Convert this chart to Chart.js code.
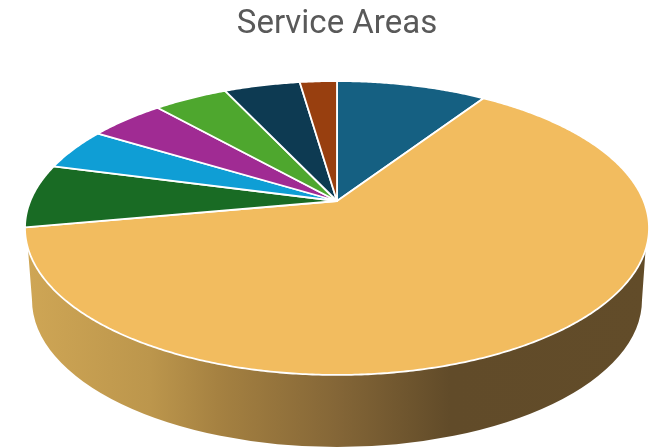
<!DOCTYPE html>
<html>
<head>
<meta charset="utf-8">
<style>html,body{margin:0;padding:0;background:#fff}canvas{display:block}</style>
<script src="https://cdn.jsdelivr.net/npm/chart.js@4/dist/chart.umd.js"></script>
</head>
<body>
<canvas id="c" width="664" height="447" style="width:664px;height:447px"></canvas>
<script>
const titleText = "Service Areas";
const categories = ["Area 1","Area 2","Area 3","Area 4","Area 5","Area 6","Area 7","Area 8"];
const shares = [9.3,62.9,7.0,4.6,4.7,4.6,4.7,2.3];
const sliceColors = ["#156082","#F2BC5F","#196B24","#0F9ED5","#A02B93","#4EA72E","#0D3A52","#983F0F"];

// Perspective view of the pie's top face
const APEX_X = 337, APEX_Y = 201, PERSP = 0.1837, SCALE_X = 306.7, SCALE_Y = 142;
const DEG = Math.PI / 180;
function project(angle) {           // angle in Chart.js radians
  const t = angle + Math.PI / 2, u = Math.sin(t), v = -Math.cos(t), w = 1 - PERSP * v;
  return [APEX_X + SCALE_X * u / w, APEX_Y + SCALE_Y * v / w];
}
function rimPath(ctx, a0, a1) {
  const n = Math.max(2, Math.ceil(Math.abs(a1 - a0) / (0.5 * DEG)));
  for (let i = 0; i <= n; i++) {
    const p = project(a0 + (a1 - a0) * i / n);
    ctx.lineTo(p[0], p[1]);
  }
}
Chart.ArcElement.prototype.draw = function (ctx) {
  ctx.save();
  ctx.beginPath();
  ctx.moveTo(APEX_X, APEX_Y);
  rimPath(ctx, this.startAngle, this.endAngle);
  ctx.closePath();
  ctx.fillStyle = this.options.backgroundColor;
  ctx.fill();
  ctx.strokeStyle = this.options.borderColor;
  ctx.lineWidth = this.options.borderWidth;
  ctx.lineJoin = "round";
  ctx.stroke();
  ctx.restore();
};

const sideWall = {
  id: "sideWall",
  beforeDatasetsDraw(chart) {
    const ctx = chart.ctx, from = (108.85 - 90) * DEG, to = (251.8 - 90) * DEG;
    chart.getDatasetMeta(0).data.forEach(arc => {
      const a0 = Math.max(arc.startAngle, from), a1 = Math.min(arc.endAngle, to);
      if (a1 <= a0) return;
      const g = ctx.createLinearGradient(25, 0, 650, 0);
      [[0,"#CFA655"],[0.2,"#BC964C"],[0.31,"#A58141"],[0.5,"#846637"],[0.68,"#614B29"],[1,"#624C29"]]
        .forEach(s => g.addColorStop(s[0], s[1]));
      ctx.save();
      ctx.beginPath();
      const s = project(a0);
      ctx.moveTo(s[0], s[1]);
      rimPath(ctx, a0, a1);
      ctx.lineTo(32, 300);
      ctx.ellipse(337, 300, 305, 147, 0, Math.PI, 0, true);
      ctx.closePath();
      ctx.fillStyle = g;
      ctx.fill();
      ctx.restore();
    });
  }
};

new Chart(document.getElementById("c"), {
  type: "pie",
  data: {
    labels: categories,
    datasets: [{
      data: shares,
      backgroundColor: sliceColors,
      borderColor: "#FFFFFF",
      borderWidth: 1.8,
      clip: false
    }]
  },
  options: {
    responsive: false,
    animation: false,
    devicePixelRatio: 1,
    layout: { padding: { left: 10 } },
    plugins: {
      legend: { display: false },
      tooltip: { enabled: false },
      title: {
        display: true,
        text: titleText,
        color: "#595959",
        font: { family: "Roboto", size: 33, weight: "400" },
        padding: { top: 5, bottom: 10 }
      }
    }
  },
  plugins: [sideWall]
});
</script>
</body>
</html>
